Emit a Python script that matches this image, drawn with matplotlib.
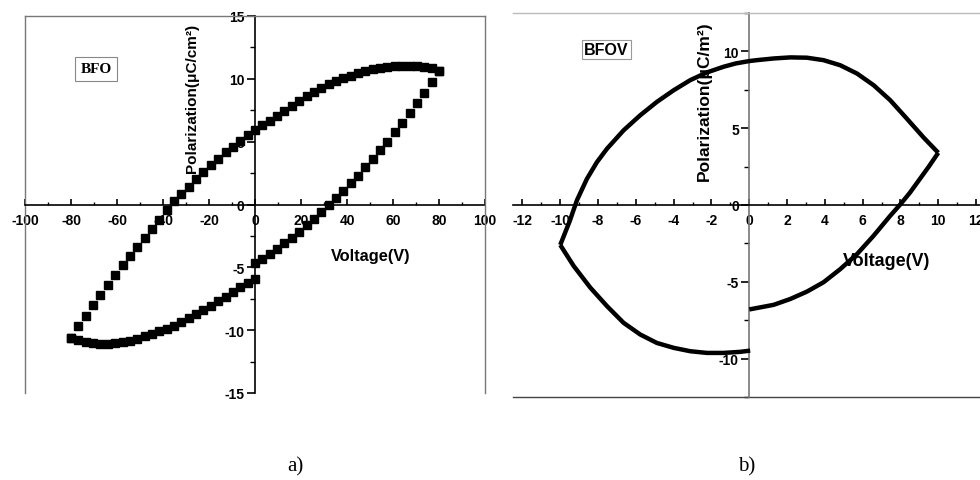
import numpy as np
import matplotlib.pyplot as plt
from matplotlib.ticker import MultipleLocator

plt.rcParams['font.family'] = ['Liberation Sans', 'DejaVu Sans']
plt.rcParams['axes.unicode_minus'] = False

# ---- panel a) BFO, square markers ----
a_rise_v = [0, 3.2, 6.4, 9.6, 12.8, 16.0, 19.2, 22.4, 25.6, 28.8, 32.0, 35.2, 38.4,
            41.6, 44.8, 48.0, 51.2, 54.4, 57.6, 60.8, 64.0, 67.2, 70.4, 73.6, 76.8, 80.0]
a_rise_p = [-4.65, -4.35, -3.95, -3.55, -3.1, -2.65, -2.15, -1.65, -1.15, -0.6, -0.05, 0.55, 1.1,
            1.7, 2.3, 2.95, 3.6, 4.3, 5.0, 5.75, 6.5, 7.3, 8.05, 8.9, 9.75, 10.65]

a_top_v = [80.0, 76.8, 73.6, 70.4, 67.2, 64.0, 60.8, 57.6, 54.4, 51.2, 48.0, 44.8, 41.6,
           38.4, 35.2, 32.0, 28.8, 25.6, 22.4, 19.2, 16.0, 12.8, 9.6, 6.4, 3.2, 0,
           -3.2, -6.4, -9.6, -12.8, -16.0, -19.2, -22.4, -25.6, -28.8, -32.0, -35.2, -38.4,
           -41.6, -44.8, -48.0, -51.2, -54.4, -57.6, -60.8, -64.0, -67.2, -70.4, -73.6, -76.8, -80.0]
a_top_p = [10.65, 10.85, 10.95, 11.02, 11.05, 11.05, 11.0, 10.95, 10.85, 10.75, 10.6, 10.45, 10.25,
           10.05, 9.8, 9.55, 9.25, 8.95, 8.6, 8.25, 7.85, 7.45, 7.05, 6.65, 6.3, 5.95,
           5.5, 5.05, 4.6, 4.15, 3.65, 3.15, 2.6, 2.0, 1.4, 0.8, 0.25, -0.45,
           -1.2, -1.95, -2.7, -3.4, -4.1, -4.85, -5.6, -6.4, -7.2, -8.0, -8.85, -9.65, -10.6]

a_bot_v = [-80.0, -76.8, -73.6, -70.4, -67.2, -64.0, -60.8, -57.6, -54.4, -51.2, -48.0, -44.8, -41.6,
           -38.4, -35.2, -32.0, -28.8, -25.6, -22.4, -19.2, -16.0, -12.8, -9.6, -6.4, -3.2, 0]
a_bot_p = [-10.6, -10.8, -10.95, -11.03, -11.08, -11.08, -11.03, -10.95, -10.85, -10.7, -10.5, -10.32, -10.1,
           -9.9, -9.66, -9.37, -9.05, -8.73, -8.39, -8.04, -7.67, -7.33, -6.93, -6.53, -6.27, -5.95]

# ---- panel b) BFOV, thick line ----
b_upper_v = [10.0, 9.22, 8.34, 7.46, 6.58, 5.7, 4.81, 3.93, 3.05, 2.17, 1.29, 0.4, 0,
             -0.7, -1.36, -2.24, -3.12, -4.0, -4.89, -5.77, -6.65, -7.53, -8.06, -8.59, -9.12,
             -9.5, -10.0]
b_upper_p = [3.4, 4.4, 5.62, 6.82, 7.8, 8.56, 9.1, 9.43, 9.59, 9.61, 9.54, 9.43, 9.37,
             9.22, 9.0, 8.63, 8.13, 7.47, 6.71, 5.84, 4.86, 3.66, 2.79, 1.7, 0.3,
             -1.05, -2.6]

b_lower_v = [-10.0, -9.29, -8.41, -7.53, -6.65, -5.77, -4.89, -4.0, -3.12, -2.24, -1.36, -0.48, 0.05]
b_lower_p = [-2.6, -3.97, -5.38, -6.58, -7.67, -8.43, -8.98, -9.3, -9.52, -9.63, -9.63, -9.56, -9.48]

b_rise_v = [0, 1.29, 2.17, 3.05, 3.93, 4.81, 5.7, 6.58, 7.46, 8.0, 8.5, 9.0, 9.5, 10.0]
b_rise_p = [-6.8, -6.5, -6.12, -5.64, -5.03, -4.18, -3.2, -2.0, -0.7, 0.05, 0.8, 1.65, 2.5, 3.4]

fig = plt.figure(figsize=(9.8, 4.81), dpi=100)

W, H = 980.0, 481.0


def frac(x0, y0, x1, y1):
    # pixel box (top-left origin) -> figure fraction rect
    return [x0 / W, 1 - y1 / H, (x1 - x0) / W, (y1 - y0) / H]


def center_axes(ax, fs):
    ax.spines['left'].set_position(('data', 0))
    ax.spines['bottom'].set_position(('data', 0))
    ax.spines['left'].set_zorder(2)
    ax.spines['bottom'].set_zorder(2)
    ax.tick_params(axis='x', which='both', direction='in', top=False, labelsize=fs, pad=6)
    ax.tick_params(axis='x', which='major', length=4, width=1.2)
    ax.tick_params(axis='x', which='minor', length=2.5, width=1)
    ax.tick_params(axis='y', which='both', direction='out', right=False, labelsize=fs, pad=2)
    ax.tick_params(axis='y', which='major', length=5.5, width=1.2)
    ax.tick_params(axis='y', which='minor', length=3.5, width=1)
    for lab in ax.get_xticklabels() + ax.get_yticklabels():
        lab.set_fontweight('bold')
    ax.patch.set_alpha(0)


# ---------- a) ----------
ax1 = fig.add_axes(frac(25, 17, 485, 394))
ax1.plot(a_top_v, a_top_p, 's', color='black', ms=5.6, zorder=5, clip_on=False)
ax1.plot(a_bot_v, a_bot_p, 's', color='black', ms=5.6, zorder=5, clip_on=False)
ax1.plot(a_rise_v, a_rise_p, 's', color='black', ms=5.6, zorder=5, clip_on=False)
ax1.set_xlim(-100, 100)
ax1.set_ylim(-15, 15)
ax1.xaxis.set_major_locator(MultipleLocator(20))
ax1.xaxis.set_minor_locator(MultipleLocator(10))
ax1.yaxis.set_major_locator(MultipleLocator(5))
ax1.yaxis.set_minor_locator(MultipleLocator(2.5))
center_axes(ax1, 10)
ax1.spines['left'].set_color('black')
ax1.spines['left'].set_linewidth(1.2)
ax1.spines['bottom'].set_linewidth(1.2)
for s in ['top', 'right']:
    ax1.spines[s].set_color('#777777')
    ax1.spines[s].set_linewidth(1.0)
ax1.plot([0, 0], [0, 1], transform=ax1.transAxes, color='#777777', lw=1.0, clip_on=False)
ax1.text(0.155, 0.86, 'BFO', transform=ax1.transAxes, ha='center', va='center',
         fontsize=11, fontweight='bold', family=['Liberation Serif'],
         bbox=dict(boxstyle='square,pad=0.35', fc='white', ec='#888888', lw=0.8))

fig.text(192 / W, 1 - 98 / H, 'Polarization(μC/cm²)', rotation=90, ha='center', va='center',
         fontsize=11, fontweight='bold')
fig.text(371 / W, 1 - 257 / H, 'Voltage(V)', ha='center', va='center', fontsize=11.8, fontweight='bold')

# ---------- b) ----------
ax2 = fig.add_axes(frac(513, 14, 985.5, 398))
for xs, ys in [(b_upper_v, b_upper_p), (b_lower_v, b_lower_p), (b_rise_v, b_rise_p)]:
    ax2.plot(xs, ys, '-', color='black', lw=3.2, solid_joinstyle='round',
             solid_capstyle='butt', zorder=5)
ax2.set_xlim(-12.5, 12.5)
ax2.set_ylim(-12.5, 12.5)
ax2.set_xticks([-12, -10, -8, -6, -4, -2, 0, 2, 4, 6, 8, 10, 12])
ax2.xaxis.set_minor_locator(MultipleLocator(1))
ax2.set_yticks([-10, -5, 0, 5, 10])
ax2.yaxis.set_minor_locator(MultipleLocator(2.5))
center_axes(ax2, 10)
ax2.spines['left'].set_color('#777777')
ax2.spines['left'].set_linewidth(1.2)
ax2.spines['bottom'].set_linewidth(1.2)
ax2.spines['top'].set_color('#bbbbbb')
ax2.spines['top'].set_linewidth(1.0)
ax2.spines['right'].set_visible(False)
ax2.plot([0, 1], [0, 0], transform=ax2.transAxes, color='#444444', lw=1.0, clip_on=False)
ax2.text(0.198, 0.905, 'BFOV', transform=ax2.transAxes, ha='center', va='center',
         fontsize=11.5, fontweight='bold',
         bbox=dict(boxstyle='square,pad=0.15', fc='white', ec='#999999', lw=0.8))

fig.text(704 / W, 1 - 101 / H, 'Polarization(μC/m²)', rotation=90, ha='center', va='center',
         fontsize=12.5, fontweight='bold')
fig.text(887 / W, 1 - 262 / H, 'Voltage(V)', ha='center', va='center', fontsize=13, fontweight='bold',
         zorder=1)

# captions
fig.text(295 / W, 1 - 467 / H, 'a)', ha='center', va='center', fontsize=15, family=['Liberation Serif'])
fig.text(747 / W, 1 - 467 / H, 'b)', ha='center', va='center', fontsize=15, family=['Liberation Serif'])

fig.savefig('out.png', dpi=100)
